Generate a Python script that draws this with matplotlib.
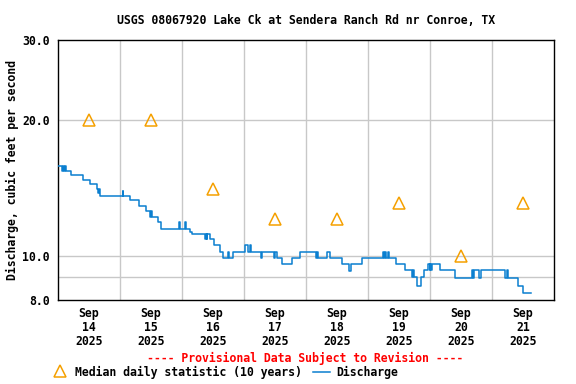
import matplotlib
matplotlib.use("Agg")
import matplotlib.pyplot as plt
from matplotlib.lines import Line2D
from matplotlib.ticker import FixedLocator, NullFormatter, NullLocator

# ---- data ----
title = "USGS 08067920 Lake Ck at Sendera Ranch Rd nr Conroe, TX"
day_labels = ["Sep\n14\n2025", "Sep\n15\n2025", "Sep\n16\n2025", "Sep\n17\n2025",
              "Sep\n18\n2025", "Sep\n19\n2025", "Sep\n20\n2025", "Sep\n21\n2025"]
# median daily statistic, plotted at noon of each day
median_hours = [12, 36, 60, 84, 108, 132, 156, 180]
median_values = [20, 20, 14.1, 12.1, 12.1, 13.1, 10.0, 13.1]

# discharge (hours since Sep 14 00:00, cfs), step series
q_hours = [0, 1.5, 1.9, 2.3, 2.8, 3.1, 4.9, 9.8, 12.4, 15.0, 15.5, 15.8, 16.1,
           25.0, 25.3, 28.0, 31.4, 34.2, 35.6, 36.0, 36.4, 38.6, 39.9,
           47.0, 47.3, 49.0, 49.4, 51.1, 52.0, 56.9, 57.2, 57.6, 57.8, 58.8,
           60.3, 62.7, 64.0, 65.7, 66.1, 67.6, 72.3, 73.4, 74.2, 74.6, 78.5,
           79.1, 83.7, 84.1, 84.7, 86.6, 90.7, 93.7, 99.9, 100.3, 100.8,
           104.0, 105.3, 110.1, 112.6, 113.5, 117.8, 125.9, 126.3, 126.7,
           127.1, 127.9, 128.1, 130.7, 134.3, 137.0, 137.5, 138.0, 138.9,
           140.5, 141.7, 143.3, 143.9, 144.1, 144.5, 144.8, 147.9, 153.7,
           160.1, 160.6, 161.2, 163.0, 163.9, 173.0, 173.8, 174.2, 178.2,
           180.1, 183.0]
q_values = [15.8, 15.4, 15.8, 15.4, 15.8, 15.4, 15.1, 14.7, 14.4, 14.1, 13.8, 14.1, 13.6,
            13.9, 13.6, 13.3, 12.9, 12.6, 12.2, 12.6, 12.2, 11.9, 11.5,
            11.9, 11.5, 11.9, 11.5, 11.3, 11.2, 10.9, 11.2, 10.9, 11.2, 10.9,
            10.6, 10.2, 9.9, 10.2, 9.9, 10.2, 10.6, 10.2, 10.6, 10.2, 9.9,
            10.2, 9.9, 10.2, 9.9, 9.6, 9.9, 10.2, 9.9, 10.2, 9.9,
            10.2, 9.9, 9.6, 9.25, 9.6, 9.9, 10.2, 9.9, 10.2,
            9.9, 10.2, 9.9, 9.6, 9.3, 9.0, 9.3, 9.0, 8.6,
            9.0, 9.3, 9.6, 9.3, 9.6, 9.3, 9.6, 9.3, 8.95,
            9.3, 8.95, 9.3, 8.95, 9.3, 8.95, 9.3, 8.95, 8.6,
            8.3, 8.3]

y_ticks = [8, 10, 20, 30]
y_ticklabels = ["8.0", "10.0", "20.0", "30.0"]
y_grid = [9, 10, 20]

# ---- figure ----
FONT = "DejaVu Sans Mono"
FS = 8.3
fig = plt.figure(figsize=(5.76, 3.84), dpi=100)
ax = fig.add_axes([58/576, 1-300/384, 496/576, 260/384])

ax.set_yscale("log")
ax.set_ylim(8, 30)
ax.set_xlim(0, 192)

# grid
for g in y_grid:
    ax.axhline(g, color="#c8c8c8", lw=1.0, zorder=1)
for d in range(24, 192, 24):
    ax.axvline(d, color="#c8c8c8", lw=1.0, zorder=1)

ax.step(q_hours, q_values, where="post", color="#0a7fd0", lw=1.1, zorder=3)
ax.plot(median_hours, median_values, linestyle="none", marker="^", markersize=8,
        markerfacecolor="none", markeredgecolor="#f5a000", markeredgewidth=1.1, zorder=4)

ax.yaxis.set_major_locator(FixedLocator(y_ticks))
ax.yaxis.set_minor_locator(NullLocator())
ax.yaxis.set_minor_formatter(NullFormatter())
ax.set_yticklabels(y_ticklabels, fontfamily=FONT, fontweight="bold", fontsize=FS)
ax.set_xticks(median_hours)
ax.set_xticklabels(day_labels, fontfamily=FONT, fontweight="bold", fontsize=FS,
                   linespacing=1.08)
ax.tick_params(axis="y", length=0, pad=6)
ax.tick_params(axis="x", length=0, pad=5)
for s in ax.spines.values():
    s.set_linewidth(1.0)
    s.set_color("black")

ax.set_ylabel("Discharge, cubic feet per second", fontfamily=FONT, fontweight="bold",
              fontsize=FS)
ax.yaxis.set_label_coords((12-58)/496, 0.5)
ax.yaxis.label.set_verticalalignment("center")

fig.text(306/576, 1-20/384, title, ha="center", va="center", fontfamily=FONT,
         fontweight="bold", fontsize=FS)
fig.text(305/576, 1-358/384, "---- Provisional Data Subject to Revision ----",
         ha="center", va="center", color="red", fontfamily=FONT, fontweight="bold",
         fontsize=FS)

# legend
fig.add_artist(Line2D([60/576], [1-371/384], transform=fig.transFigure, marker="^",
                      markersize=8, markerfacecolor="none", markeredgecolor="#f5a000",
                      markeredgewidth=1.1, linestyle="none"))
fig.text(75/576, 1-372/384, "Median daily statistic (10 years)", ha="left", va="center",
         fontfamily=FONT, fontweight="bold", fontsize=FS)
fig.add_artist(Line2D([313/576, 330/576], [1-372/384, 1-372/384], transform=fig.transFigure,
                      color="#0a7fd0", lw=1.1))
fig.text(336/576, 1-372/384, "Discharge", ha="left", va="center",
         fontfamily=FONT, fontweight="bold", fontsize=FS)

fig.savefig("out.png", dpi=100)
